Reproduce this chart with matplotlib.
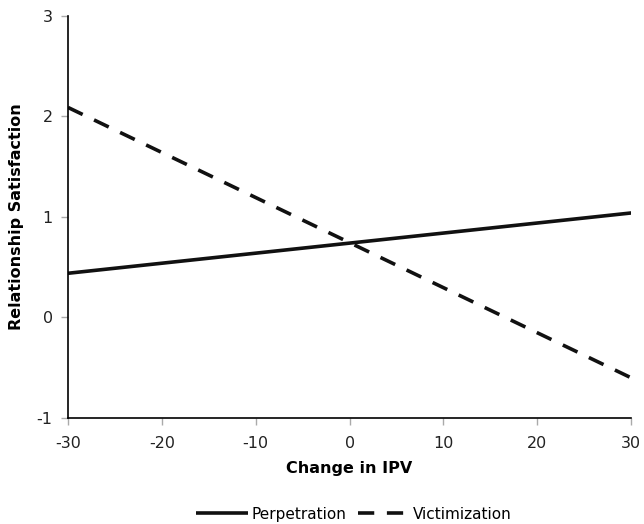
import matplotlib
matplotlib.use("Agg")
import matplotlib.pyplot as plt

plt.rcParams['font.family'] = ['DejaVu Sans']
plt.rcParams['axes.unicode_minus'] = False

# IPV change endpoints and predicted satisfaction
ipv_change = [-30, 30]
perpetration = [0.44, 1.04]
victimization = [2.09, -0.60]

x_ticks = [-30, -20, -10, 0, 10, 20, 30]
y_ticks = [-1, 0, 1, 2, 3]

fig = plt.figure(figsize=(6.44, 5.24), dpi=100)
ax = fig.add_axes([0.1056, 0.2023, 0.8744, 0.7672])

ax.plot(ipv_change, perpetration, color='#111111', lw=2.6, solid_capstyle='butt',
        label='Perpetration')
ax.plot(ipv_change, victimization, color='#111111', lw=2.6, dashes=(4.5, 3.5),
        label='Victimization')

ax.set_xlim(-30, 30)
ax.set_ylim(-1, 3)
ax.set_xticks(x_ticks)
ax.set_yticks(y_ticks)
ax.tick_params(axis='both', direction='out', length=5, width=1, color='#aaaaaa',
               labelsize=11.5, labelcolor='#222222')
ax.tick_params(axis='x', pad=8)
ax.tick_params(axis='y', pad=6)

for side in ['top', 'right']:
    ax.spines[side].set_visible(False)
for side in ['left', 'bottom']:
    ax.spines[side].set_linewidth(1.2)
    ax.spines[side].set_color('black')

ax.set_xlabel('Change in IPV', fontsize=11.5, fontweight='bold', labelpad=7)
ax.set_ylabel('Relationship Satisfaction', fontsize=11.5, fontweight='bold', labelpad=9)

fig.legend(loc='lower center', bbox_to_anchor=(0.55, -0.022), ncol=2, frameon=False,
           fontsize=11, handlelength=3.4, handletextpad=0.2, columnspacing=0.8)

fig.savefig('out.png', dpi=100)
